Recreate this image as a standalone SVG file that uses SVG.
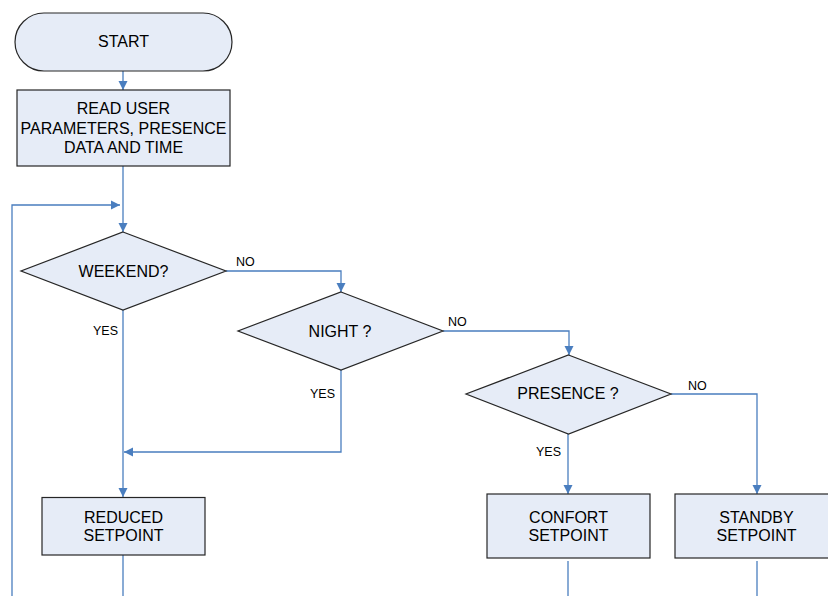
<svg xmlns="http://www.w3.org/2000/svg" width="828" height="596" viewBox="0 0 828 596">
<defs>
<style>
.n{fill:#E6ECF7;stroke:#262626;stroke-width:1.2}
.c{fill:none;stroke:#4A7EBF;stroke-width:1.3}
.t{font-family:"Liberation Sans",Arial,sans-serif;font-size:16px;fill:#000;text-anchor:middle}
.l{font-family:"Liberation Sans",Arial,sans-serif;font-size:12.5px;fill:#000}
</style>
<marker id="a" markerUnits="userSpaceOnUse" markerWidth="10" markerHeight="10" refX="9" refY="5" orient="auto">
<path d="M0,0.5 L9,5 L0,9.5 Z" fill="#4A7EBF"/>
</marker>
</defs>
<rect width="828" height="596" fill="#fff"/>
<g id="connectors">
<path class="c" d="M123,71 V90" marker-end="url(#a)"/>
<path class="c" d="M123,166 V232" marker-end="url(#a)"/>
<path class="c" d="M12,596 V205 H120" marker-end="url(#a)"/>
<path class="c" d="M226,271 H341 V292" marker-end="url(#a)"/>
<path class="c" d="M443,331 H569 V355" marker-end="url(#a)"/>
<path class="c" d="M671,394 H757 V494" marker-end="url(#a)"/>
<path class="c" d="M568,434 V494" marker-end="url(#a)"/>
<path class="c" d="M123,310 V497" marker-end="url(#a)"/>
<path class="c" d="M341,370 V452 H124" marker-end="url(#a)"/>
<path class="c" d="M123,555 V596"/>
<path class="c" d="M568,561 V596"/>
<path class="c" d="M757,561 V596"/>
</g>
<g id="start">
<rect class="n" x="15" y="13" width="217" height="58" rx="29" ry="29"/>
<text class="t" x="123.5" y="47">START</text>
</g>
<g id="read">
<rect class="n" x="17" y="90" width="213" height="76"/>
<text class="t" x="123.5" y="114">READ USER</text>
<text class="t" x="123.5" y="133.5">PARAMETERS, PRESENCE</text>
<text class="t" x="123.5" y="153">DATA AND TIME</text>
</g>
<g id="weekend">
<polygon class="n" points="123,232 226,271 123,310 21,271"/>
<text class="t" x="123.5" y="277">WEEKEND?</text>
</g>
<g id="night">
<polygon class="n" points="341,292 443,331 341,370 238,331"/>
<text class="t" x="340" y="337">NIGHT ?</text>
</g>
<g id="presence">
<polygon class="n" points="568.5,355 671,394 568.5,434 466,394"/>
<text class="t" x="568" y="399">PRESENCE ?</text>
</g>
<g id="reduced">
<rect class="n" x="42" y="497.5" width="163" height="57.5"/>
<text class="t" x="123.5" y="523">REDUCED</text>
<text class="t" x="123.5" y="541">SETPOINT</text>
</g>
<g id="confort">
<rect class="n" x="487" y="494" width="163" height="64"/>
<text class="t" x="568.5" y="523">CONFORT</text>
<text class="t" x="568.5" y="541">SETPOINT</text>
</g>
<g id="standby">
<rect class="n" x="675" y="494" width="164" height="64"/>
<text class="t" x="756.5" y="523">STANDBY</text>
<text class="t" x="756.5" y="541">SETPOINT</text>
</g>
<g id="labels">
<text class="l" x="236" y="265.5">NO</text>
<text class="l" x="93" y="334.5">YES</text>
<text class="l" x="448" y="325.5">NO</text>
<text class="l" x="310" y="397.5">YES</text>
<text class="l" x="688" y="389.5">NO</text>
<text class="l" x="536" y="455.5">YES</text>
</g>
</svg>
